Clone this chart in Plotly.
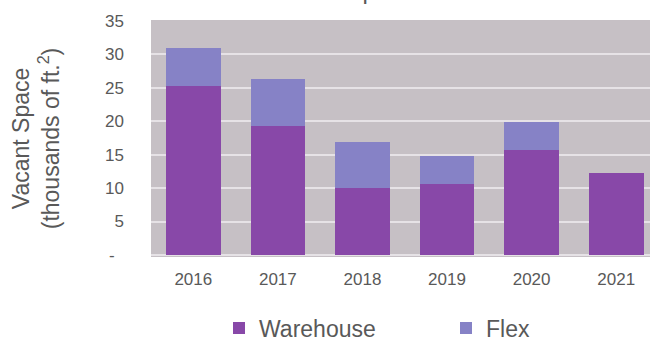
import plotly.graph_objects as go

# Vacant space by year, thousands of sq. ft.
years = ["2016", "2017", "2018", "2019", "2020", "2021"]
warehouse = [25.2, 19.3, 10.0, 10.6, 15.7, 12.2]
flex = [5.8, 7.0, 6.9, 4.2, 4.2, 0.0]

y_ticks = [0, 5, 10, 15, 20, 25, 30, 35]
y_tick_text = ["-\u00a0\u00a0", "5", "10", "15", "20", "25", "30", "35"]

WAREHOUSE_COLOR = "#8848A8"
FLEX_COLOR = "#8682C6"
TEXT_COLOR = "#595959"
FONT = "Liberation Sans, Arial, sans-serif"

W, H = 650, 339
M_L, M_R, M_T, M_B = 151, 0, 20, 82
plot_h = H - M_T - M_B
plot_w = W - M_L - M_R


def px_x(px):
    return (px - M_L) / plot_w


def px_y(py):
    return ((H - M_B) - py) / plot_h


fig = go.Figure()
fig.add_trace(go.Bar(name="Warehouse", x=years, y=warehouse, legend="legend",
                     marker=dict(color=WAREHOUSE_COLOR, line=dict(width=0))))
fig.add_trace(go.Bar(name="Flex", x=years, y=flex, legend="legend2",
                     marker=dict(color=FLEX_COLOR, line=dict(width=0))))

legend_style = dict(
    orientation="h", yanchor="middle", y=px_y(328), xanchor="left",
    font=dict(size=23, color=TEXT_COLOR), bgcolor="rgba(0,0,0,0)",
)

fig.update_layout(
    width=W, height=H,
    margin=dict(l=M_L, r=M_R, t=M_T, b=M_B, autoexpand=False),
    barmode="stack",
    bargap=0.353,
    paper_bgcolor="white",
    plot_bgcolor="#C6C0C5",
    font=dict(family=FONT, color=TEXT_COLOR, size=17),
    showlegend=True,
    legend=dict(x=px_x(219), **legend_style),
    legend2=dict(x=px_x(446), **legend_style),
    xaxis=dict(
        type="category",
        range=[-0.5, 5.4],
        showgrid=False, zeroline=False, showline=False,
        ticks="", ticklabelstandoff=10,
        tickfont=dict(size=17, color=TEXT_COLOR),
    ),
    yaxis=dict(
        range=[-0.3, 35.12],
        tickvals=y_ticks, ticktext=y_tick_text,
        showgrid=True, gridcolor="#E6E2E6", gridwidth=1.5,
        zeroline=False, showline=False,
        ticks="", ticklabelstandoff=26,
        tickfont=dict(size=17, color=TEXT_COLOR),
        title=dict(text="Vacant Space<br>(thousands of ft.<sup>2</sup>)",
                   font=dict(size=23, color=TEXT_COLOR), standoff=39),
    ),
)

# Chart title sits above the top edge of the page
fig.add_annotation(
    text="Vacant Space", xref="paper", yref="paper",
    x=px_x(341), xanchor="center",
    y=px_y(6), yanchor="bottom",
    showarrow=False, font=dict(size=24, color=TEXT_COLOR, family=FONT),
)

fig.write_html("out.html")
